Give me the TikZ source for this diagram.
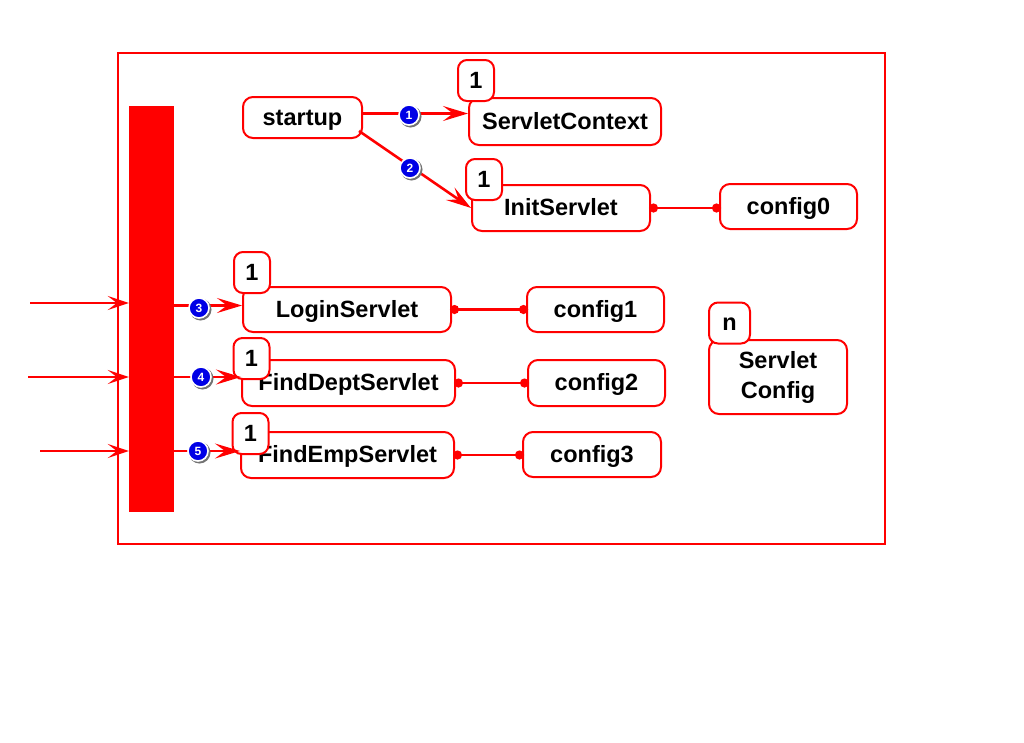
\documentclass[tikz,border=0pt]{standalone}
\usepackage{fontspec}
\setmainfont{Liberation Sans}
\usetikzlibrary{arrows.meta}
\definecolor{myred}{RGB}{255,0,0}
\definecolor{myblue}{RGB}{0,0,230}
\tikzset{
  box/.style={draw=myred, line width=2pt, rounded corners=10pt, fill=white, font=\bfseries\fontsize{23.5}{30}\selectfont, inner sep=0pt, align=center},
  one/.style={text height=15pt, text depth=0pt},
  tag/.style={draw=myred, line width=2pt, rounded corners=9pt, fill=white, font=\bfseries\fontsize{23.5}{26}\selectfont, inner sep=0pt, minimum width=36pt, minimum height=41pt, text height=15pt, text depth=0pt},
  arr/.style={draw=myred, line width=2.6pt, -{Stealth[length=25pt,width=15pt,inset=10pt]}},
  inarr/.style={draw=myred, line width=2.6pt, -{Stealth[length=21pt,width=14pt,inset=9pt]}},
  conn/.style={draw=myred, line width=2.6pt, {Circle[length=9pt]}-{Circle[length=9pt]}},
  num/.style={circle, fill=myblue, draw=white, line width=1.6pt, inner sep=0pt, minimum size=20pt, text=white, font=\bfseries\fontsize{12}{12}\selectfont},
}
\newcommand{\numbadge}[3]{%
  \fill[black!55] (#1+1.5,#2+1.5) circle (11);
  \node[num] (#3) at (#1,#2) {#3};}
\begin{document}
\begin{tikzpicture}[x=1pt,y=-1pt]
\useasboundingbox[fill=white] (0,0) rectangle (1024,742);
% frame
\draw[myred, line width=2.8pt] (118,53) rectangle (885,544);
% bar
\node[fill=myred, minimum width=45pt, minimum height=406pt, inner sep=0pt] (bar) at (151.5,309) {};
% boxes
\node[box, one, minimum width=119pt, minimum height=41pt] (startup) at (302.5,117.5) {startup};
\node[box, one, minimum width=192pt, minimum height=47pt] (ctx) at (565,121.5) {ServletContext};
\node[box, one, minimum width=178pt, minimum height=46pt] (init) at (561,208) {InitServlet};
\node[box, one, minimum width=137pt, minimum height=45pt] (cfg0) at (788.5,206.5) {config0};
\node[box, one, minimum width=208pt, minimum height=45pt] (login) at (347,309.5) {LoginServlet};
\node[box, one, minimum width=137pt, minimum height=45pt] (cfg1) at (595.5,309.5) {config1};
\node[box, one, minimum width=213pt, minimum height=46pt] (dept) at (348.5,383) {FindDeptServlet};
\node[box, one, minimum width=137pt, minimum height=46pt] (cfg2) at (596.5,383) {config2};
\node[box, one, minimum width=213pt, minimum height=46pt] (emp) at (347.5,455) {FindEmpServlet};
\node[box, one, minimum width=138pt, minimum height=45pt] (cfg3) at (592,454.5) {config3};
\node[box, minimum width=138pt, minimum height=74pt] (sc) at (778,377) {Servlet\\Config};
% tags
\node[tag] (t0) at (476,80.5) {1};
\node[tag] (t1) at (484,179.5) {1};
\node[tag] (t2) at (252,272.5) {1};
\node[tag] (t3) at (251.5,358.5) {1};
\node[tag] (t4) at (250.5,433.5) {1};
\node[tag, minimum width=41pt] (tn) at (729.5,323) {n};
% arrows from startup
\draw[arr] ([yshift=4pt]startup.east) -- ([yshift=8pt]ctx.west);
\draw[arr] ([xshift=-4pt,yshift=8pt]startup.south east) -- (init.west);
% incoming arrows
\coordinate (in1) at (30,303);
\coordinate (in2) at (28,377);
\coordinate (in3) at (40,451);
\draw[inarr] (in1) -- (in1 -| bar.west);
\draw[inarr] (in2) -- (in2 -| bar.west);
\draw[inarr] (in3) -- (in3 -| bar.west);
% bar to servlets
\draw[arr] ([yshift=4pt]login.west -| bar.east) -- ([yshift=4pt]login.west);
\draw[arr] ([yshift=6pt]dept.west -| bar.east) -- ([yshift=6pt]dept.west);
\draw[arr] ([yshift=4pt]emp.west -| bar.east) -- ([yshift=4pt]emp.west);
% config connectors
\draw[conn] ([xshift=-2pt]init.east) -- ([xshift=2pt]init.east -| cfg0.west);
\draw[conn] ([xshift=-2pt]login.east) -- ([xshift=2pt]login.east -| cfg1.west);
\draw[conn] ([xshift=-2pt]dept.east) -- ([xshift=2pt]dept.east -| cfg2.west);
\draw[conn] ([xshift=-2pt]emp.east) -- ([xshift=2pt]emp.east -| cfg3.west);
% number badges
\numbadge{409}{115}{1}
\numbadge{410}{168}{2}
\numbadge{199}{308}{3}
\numbadge{201}{377}{4}
\numbadge{198}{451}{5}
\end{tikzpicture}
\end{document}
